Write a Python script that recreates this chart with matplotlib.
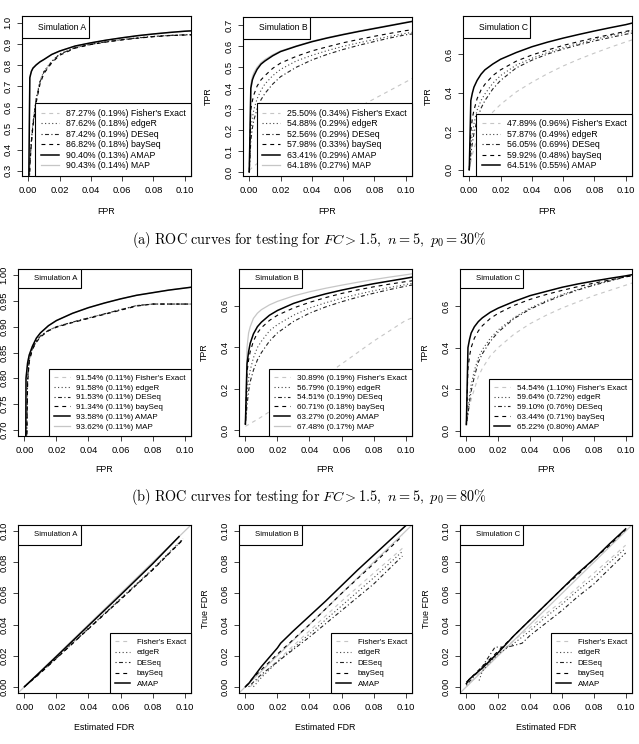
import matplotlib
matplotlib.use("Agg")
import matplotlib.pyplot as plt
from matplotlib.lines import Line2D
from matplotlib.patches import Rectangle

plt.rcParams["font.family"] = ["Liberation Sans", "DejaVu Sans"]
plt.rcParams["mathtext.fontset"] = "cm"

W, H = 639, 744

METHODS = ["Fisher's Exact", "edgeR", "DESeq", "baySeq", "AMAP", "MAP"]

# shared FPR grid for the ROC curves
FPR = [0.0, 0.001, 0.002, 0.003, 0.005, 0.0075, 0.01, 0.015, 0.02, 0.03,
       0.04, 0.05, 0.06, 0.07, 0.08, 0.09, 0.10, 0.105]

# ---- (a) p0 = 30% ----
roc_a30 = {
    "Fisher's Exact": [0, 0.33, 0.44, 0.52, 0.63, 0.72, 0.765, 0.815, 0.85, 0.882, 0.898, 0.91, 0.92, 0.928, 0.935, 0.94, 0.943, 0.944],
    "edgeR":          [0, 0.34, 0.45, 0.53, 0.64, 0.725, 0.77, 0.818, 0.852, 0.883, 0.899, 0.911, 0.921, 0.929, 0.936, 0.94, 0.943, 0.944],
    "DESeq":          [0, 0.33, 0.44, 0.52, 0.635, 0.72, 0.767, 0.816, 0.851, 0.882, 0.898, 0.91, 0.92, 0.928, 0.935, 0.94, 0.943, 0.944],
    "baySeq":         [0, 0.32, 0.43, 0.51, 0.62, 0.71, 0.76, 0.81, 0.846, 0.88, 0.897, 0.909, 0.919, 0.927, 0.934, 0.939, 0.942, 0.943],
    "AMAP":           [0, 0.74, 0.77, 0.785, 0.80, 0.815, 0.826, 0.85, 0.866, 0.89, 0.905, 0.918, 0.929, 0.939, 0.947, 0.954, 0.96, 0.962],
    "MAP":            [0, 0.745, 0.772, 0.787, 0.802, 0.816, 0.827, 0.85, 0.866, 0.89, 0.905, 0.918, 0.929, 0.939, 0.947, 0.954, 0.96, 0.962],
}
roc_b30 = {
    "Fisher's Exact": [0.008, 0.015, 0.022, 0.028, 0.04, 0.055, 0.068, 0.09, 0.11, 0.15, 0.19, 0.23, 0.27, 0.31, 0.35, 0.39, 0.43, 0.45],
    "edgeR":          [0, 0.2, 0.26, 0.30, 0.35, 0.39, 0.42, 0.46, 0.49, 0.53, 0.557, 0.58, 0.60, 0.617, 0.633, 0.648, 0.662, 0.668],
    "DESeq":          [0, 0.15, 0.21, 0.25, 0.30, 0.345, 0.375, 0.42, 0.455, 0.50, 0.535, 0.562, 0.585, 0.605, 0.623, 0.64, 0.655, 0.66],
    "baySeq":         [0, 0.30, 0.34, 0.37, 0.41, 0.44, 0.46, 0.495, 0.52, 0.552, 0.578, 0.598, 0.617, 0.633, 0.648, 0.662, 0.675, 0.68],
    "AMAP":           [0, 0.40, 0.44, 0.46, 0.49, 0.515, 0.53, 0.555, 0.575, 0.60, 0.622, 0.64, 0.656, 0.671, 0.685, 0.699, 0.713, 0.72],
    "MAP":            [0, 0.42, 0.455, 0.475, 0.50, 0.522, 0.537, 0.56, 0.578, 0.602, 0.624, 0.642, 0.658, 0.673, 0.687, 0.701, 0.715, 0.722],
}
roc_c30 = {
    "Fisher's Exact": [0, 0.04, 0.08, 0.11, 0.16, 0.21, 0.245, 0.30, 0.34, 0.405, 0.455, 0.50, 0.54, 0.575, 0.607, 0.637, 0.665, 0.678],
    "edgeR":          [0, 0.12, 0.19, 0.24, 0.31, 0.36, 0.395, 0.45, 0.49, 0.545, 0.58, 0.61, 0.635, 0.657, 0.678, 0.697, 0.715, 0.724],
    "DESeq":          [0, 0.08, 0.14, 0.19, 0.26, 0.32, 0.36, 0.42, 0.465, 0.53, 0.57, 0.602, 0.628, 0.65, 0.67, 0.688, 0.705, 0.713],
    "baySeq":         [0, 0.20, 0.27, 0.31, 0.37, 0.415, 0.445, 0.49, 0.52, 0.565, 0.597, 0.623, 0.647, 0.667, 0.686, 0.703, 0.72, 0.728],
    "AMAP":           [0, 0.36, 0.40, 0.43, 0.465, 0.497, 0.52, 0.55, 0.575, 0.61, 0.64, 0.664, 0.685, 0.704, 0.722, 0.739, 0.755, 0.765],
}
auc_a30 = {"Fisher's Exact": "87.27% (0.19%)", "edgeR": "87.62% (0.18%)", "DESeq": "87.42% (0.19%)",
           "baySeq": "86.82% (0.18%)", "AMAP": "90.40% (0.13%)", "MAP": "90.43% (0.14%)"}
auc_b30 = {"Fisher's Exact": "25.50% (0.34%)", "edgeR": "54.88% (0.29%)", "DESeq": "52.56% (0.29%)",
           "baySeq": "57.98% (0.33%)", "AMAP": "63.41% (0.29%)", "MAP": "64.18% (0.27%)"}
auc_c30 = {"Fisher's Exact": "47.89% (0.96%)", "edgeR": "57.87% (0.49%)", "DESeq": "56.05% (0.69%)",
           "baySeq": "59.92% (0.48%)", "AMAP": "64.51% (0.55%)"}

# ---- (b) p0 = 80% ----
roc_a80 = {
    "Fisher's Exact": [0, 0.60, 0.80, 0.835, 0.858, 0.872, 0.882, 0.893, 0.90, 0.909, 0.917, 0.925, 0.933, 0.941, 0.944, 0.944, 0.944, 0.944],
    "edgeR":          [0, 0.61, 0.80, 0.836, 0.858, 0.872, 0.882, 0.893, 0.90, 0.909, 0.917, 0.925, 0.933, 0.941, 0.944, 0.944, 0.944, 0.944],
    "DESeq":          [0, 0.60, 0.80, 0.835, 0.858, 0.872, 0.882, 0.893, 0.90, 0.909, 0.917, 0.925, 0.933, 0.941, 0.944, 0.944, 0.944, 0.944],
    "baySeq":         [0, 0.58, 0.79, 0.832, 0.856, 0.87, 0.88, 0.892, 0.899, 0.908, 0.916, 0.924, 0.932, 0.94, 0.944, 0.944, 0.944, 0.944],
    "AMAP":           [0, 0.80, 0.83, 0.845, 0.862, 0.878, 0.888, 0.902, 0.912, 0.926, 0.937, 0.946, 0.954, 0.961, 0.966, 0.971, 0.975, 0.977],
    "MAP":            [0, 0.80, 0.83, 0.846, 0.863, 0.878, 0.888, 0.902, 0.912, 0.926, 0.937, 0.946, 0.954, 0.961, 0.966, 0.971, 0.975, 0.977],
}
roc_b80 = {
    "Fisher's Exact": [0.02, 0.024, 0.028, 0.033, 0.042, 0.053, 0.065, 0.09, 0.115, 0.165, 0.215, 0.265, 0.32, 0.375, 0.43, 0.48, 0.53, 0.545],
    "edgeR":          [0.03, 0.18, 0.25, 0.29, 0.35, 0.40, 0.43, 0.48, 0.51, 0.555, 0.59, 0.615, 0.637, 0.656, 0.673, 0.689, 0.703, 0.71],
    "DESeq":          [0.03, 0.12, 0.19, 0.235, 0.29, 0.34, 0.375, 0.43, 0.47, 0.525, 0.565, 0.595, 0.62, 0.642, 0.661, 0.679, 0.695, 0.702],
    "baySeq":         [0.03, 0.28, 0.34, 0.38, 0.43, 0.47, 0.495, 0.53, 0.555, 0.59, 0.617, 0.64, 0.66, 0.677, 0.692, 0.705, 0.717, 0.722],
    "AMAP":           [0.03, 0.32, 0.38, 0.42, 0.465, 0.50, 0.522, 0.555, 0.578, 0.612, 0.637, 0.658, 0.676, 0.692, 0.707, 0.72, 0.733, 0.74],
    "MAP":            [0.03, 0.40, 0.47, 0.50, 0.54, 0.565, 0.582, 0.605, 0.622, 0.648, 0.668, 0.685, 0.70, 0.714, 0.727, 0.739, 0.75, 0.756],
}
roc_c80 = {
    "Fisher's Exact": [0.03, 0.08, 0.12, 0.15, 0.20, 0.26, 0.30, 0.36, 0.40, 0.465, 0.515, 0.555, 0.59, 0.62, 0.65, 0.675, 0.70, 0.713],
    "edgeR":          [0.03, 0.10, 0.17, 0.22, 0.29, 0.35, 0.39, 0.445, 0.485, 0.545, 0.59, 0.625, 0.655, 0.68, 0.703, 0.723, 0.742, 0.75],
    "DESeq":          [0.03, 0.08, 0.14, 0.19, 0.26, 0.33, 0.37, 0.43, 0.475, 0.54, 0.585, 0.62, 0.65, 0.677, 0.70, 0.72, 0.74, 0.75],
    "baySeq":         [0.03, 0.30, 0.36, 0.40, 0.445, 0.48, 0.505, 0.54, 0.565, 0.603, 0.632, 0.655, 0.675, 0.693, 0.71, 0.725, 0.74, 0.747],
    "AMAP":           [0.03, 0.40, 0.44, 0.47, 0.50, 0.525, 0.543, 0.57, 0.59, 0.622, 0.65, 0.67, 0.69, 0.706, 0.72, 0.733, 0.745, 0.752],
}
auc_a80 = {"Fisher's Exact": "91.54% (0.11%)", "edgeR": "91.58% (0.11%)", "DESeq": "91.53% (0.11%)",
           "baySeq": "91.34% (0.11%)", "AMAP": "93.58% (0.11%)", "MAP": "93.62% (0.11%)"}
auc_b80 = {"Fisher's Exact": "30.89% (0.19%)", "edgeR": "56.79% (0.19%)", "DESeq": "54.51% (0.19%)",
           "baySeq": "60.71% (0.18%)", "AMAP": "63.27% (0.20%)", "MAP": "67.48% (0.17%)"}
auc_c80 = {"Fisher's Exact": "54.54% (1.10%)", "edgeR": "59.64% (0.72%)", "DESeq": "59.10% (0.76%)",
           "baySeq": "63.44% (0.71%)", "AMAP": "65.22% (0.80%)"}

# ---- FDR calibration: (estimated FDR, true FDR) per method ----
fdr_a = {
    "Fisher's Exact": ([0.0, 0.01, 0.02, 0.04, 0.06, 0.08, 0.099], [0.0, 0.009, 0.0185, 0.0375, 0.0565, 0.0755, 0.095]),
    "edgeR":          ([0.0, 0.01, 0.02, 0.04, 0.06, 0.08, 0.099], [0.0, 0.0092, 0.0187, 0.0377, 0.0567, 0.0757, 0.0952]),
    "DESeq":          ([0.0, 0.01, 0.02, 0.04, 0.06, 0.08, 0.099], [0.0, 0.009, 0.0184, 0.0374, 0.0563, 0.0753, 0.0948]),
    "baySeq":         ([0.0, 0.01, 0.02, 0.04, 0.06, 0.08, 0.099], [0.0, 0.0088, 0.0182, 0.0372, 0.056, 0.075, 0.0945]),
    "AMAP":           ([0.0, 0.01, 0.02, 0.04, 0.06, 0.08, 0.0965], [0.0, 0.0097, 0.0195, 0.0393, 0.059, 0.079, 0.0965]),
}
fdr_b = {
    "Fisher's Exact": ([0.003, 0.01, 0.02, 0.04, 0.06, 0.08, 0.098], [0.0, 0.007, 0.017, 0.036, 0.055, 0.073, 0.089]),
    "edgeR":          ([0.005, 0.01, 0.02, 0.04, 0.06, 0.08, 0.098], [0.0, 0.006, 0.016, 0.034, 0.052, 0.07, 0.087]),
    "DESeq":          ([0.002, 0.01, 0.015, 0.02, 0.04, 0.06, 0.08, 0.098], [0.0, 0.008, 0.012, 0.016, 0.032, 0.049, 0.066, 0.084]),
    "baySeq":         ([0.0, 0.005, 0.01, 0.02, 0.04, 0.06, 0.08, 0.098], [0.0, 0.006, 0.011, 0.021, 0.040, 0.060, 0.079, 0.097]),
    "AMAP":           ([0.0, 0.002, 0.01, 0.02, 0.022, 0.03, 0.04, 0.05, 0.06, 0.07, 0.08, 0.09, 0.1],
                       [0.0, 0.002, 0.013, 0.025, 0.028, 0.036, 0.0455, 0.055, 0.065, 0.075, 0.0845, 0.094, 0.1035]),
}
fdr_c = {
    "Fisher's Exact": ([0.0, 0.01, 0.02, 0.03, 0.04, 0.05, 0.06, 0.07, 0.08, 0.09, 0.1],
                       [0.0, 0.011, 0.021, 0.03, 0.038, 0.047, 0.055, 0.064, 0.073, 0.082, 0.091]),
    "edgeR":          ([0.008, 0.01, 0.015, 0.02, 0.03, 0.04, 0.05, 0.06, 0.07, 0.08, 0.09, 0.1],
                       [0.004, 0.01, 0.016, 0.021, 0.028, 0.036, 0.045, 0.053, 0.062, 0.07, 0.08, 0.089]),
    "DESeq":          ([0.0, 0.01, 0.018, 0.026, 0.035, 0.04, 0.05, 0.06, 0.07, 0.08, 0.09, 0.1],
                       [0.001, 0.013, 0.0255, 0.0255, 0.028, 0.033, 0.041, 0.049, 0.058, 0.066, 0.076, 0.086]),
    "baySeq":         ([0.0, 0.002, 0.01, 0.02, 0.03, 0.04, 0.05, 0.06, 0.07, 0.08, 0.09, 0.1],
                       [0.003, 0.005, 0.013, 0.023, 0.033, 0.043, 0.053, 0.063, 0.072, 0.082, 0.091, 0.101]),
    "AMAP":           ([0.0, 0.002, 0.01, 0.02, 0.03, 0.04, 0.05, 0.06, 0.07, 0.08, 0.09, 0.1],
                       [0.002, 0.005, 0.012, 0.022, 0.033, 0.043, 0.053, 0.063, 0.073, 0.082, 0.092, 0.1015]),
}

X_TICKS = [0.00, 0.02, 0.04, 0.06, 0.08, 0.10]
CAPTIONS = [r"$\mathrm{(a)\ ROC\ curves\ for\ testing\ for\ }FC > 1.5,\ n = 5,\ p_0 = 30\%$",
            r"$\mathrm{(b)\ ROC\ curves\ for\ testing\ for\ }FC > 1.5,\ n = 5,\ p_0 = 80\%$"]

LGRAY = "#c6c6c6"
STYLE = {
    "Fisher's Exact": dict(color=LGRAY, ls=(0, (3.5, 3.5)), lw=0.8),
    "edgeR":          dict(color="#444444", ls=(0, (1, 2.2)), lw=0.8),
    "DESeq":          dict(color="#222222", ls=(0, (1, 2.2, 3.5, 2.2)), lw=0.8),
    "baySeq":         dict(color="black", ls=(0, (3.5, 3.5)), lw=0.8),
    "AMAP":           dict(color="black", ls="-", lw=1.1),
    "MAP":            dict(color=LGRAY, ls="-", lw=0.9),
}
DRAW_ORDER = ["Fisher's Exact", "MAP", "edgeR", "DESeq", "baySeq", "AMAP"]

fig = plt.figure(figsize=(W / 100, H / 100), dpi=100)


def add_axes(l, t, r, b):
    return fig.add_axes([l / W, 1 - b / H, (r - l) / W, (b - t) / H])


def style_axes(ax, ylim, yticks, yfmt, xlabel, ylabel, sim, lab_dy, lab_dx, simw, simh, simfs):
    ax.set_xlim(-0.004, 0.104)
    ax.set_ylim(*ylim)
    ax.set_xticks(X_TICKS)
    ax.set_xticklabels([f"{v:.2f}" for v in X_TICKS], fontsize=6.8)
    ax.set_yticks(yticks)
    ax.set_yticklabels([yfmt.format(v) for v in yticks], fontsize=6.8, rotation=90, va="center")
    ax.tick_params(direction="out", length=3.6, width=0.6, pad=3.5, color="#222222")
    for s in ax.spines.values():
        s.set_linewidth(0.8)
    ax.text(0.5, lab_dy, xlabel, transform=ax.transAxes, ha="center", va="center", fontsize=6.4)
    if ylabel:
        ax.text(lab_dx, 0.5, ylabel, transform=ax.transAxes, ha="center", va="center",
                rotation=90, fontsize=6.4)
    ax.add_patch(Rectangle((0, 1 - simh), simw, simh, transform=ax.transAxes, fill=True,
                           facecolor="white", edgecolor="black", lw=0.8, zorder=5))
    ax.text(simw * 0.6, 1 - simh / 2, f"Simulation {sim}", transform=ax.transAxes,
            ha="center", va="center", fontsize=simfs, zorder=6)


def draw_legend(ax, names, labels, fs, spacing):
    handles = [Line2D([], [], **STYLE[m]) for m in names]
    leg = ax.legend(handles, labels, loc="lower right", borderaxespad=0, fontsize=fs,
                    fancybox=False, framealpha=1, edgecolor="black", handlelength=2.0,
                    handletextpad=0.8, labelspacing=spacing, borderpad=0.65)
    leg.get_frame().set_linewidth(0.8)
    leg.set_zorder(7)


# ---- ROC rows ----
roc_rows = [
    (0, [roc_a30, roc_b30, roc_c30], [auc_a30, auc_b30, auc_c30],
     [(22, 16, 191, 176), (243, 17, 412, 176), (463, 16, 632, 176)],
     [((0.275, 1.032), [0.3, 0.4, 0.5, 0.6, 0.7, 0.8, 0.9, 1.0], "{:.1f}"),
      ((-0.019, 0.74), [0.0, 0.1, 0.2, 0.3, 0.4, 0.5, 0.6, 0.7], "{:.1f}"),
      ((-0.032, 0.80), [0.0, 0.2, 0.4, 0.6], "{:.1f}")], 6.3, 6.2, 0.17),
    (1, [roc_a80, roc_b80, roc_c80], [auc_a80, auc_b80, auc_c80],
     [(18, 269, 191, 436), (239, 269, 412, 436), (460, 269, 632, 436)],
     [((0.688, 1.012), [0.70, 0.75, 0.80, 0.85, 0.90, 0.95, 1.00], "{:.2f}"),
      ((-0.027, 0.778), [0.0, 0.2, 0.4, 0.6], "{:.1f}"),
      ((-0.025, 0.778), [0.0, 0.2, 0.4, 0.6], "{:.1f}")], 5.75, 5.6, 0.28),
]

for row, curves, aucs, boxes, yspecs, legfs, simfs, lsp in roc_rows:
    for j, (data, auc, box, (ylim, yt, yf)) in enumerate(zip(curves, aucs, boxes, yspecs)):
        ax = add_axes(*box)
        h = box[3] - box[1]
        w = box[2] - box[0]
        for m in DRAW_ORDER:
            if m in data:
                ax.plot(FPR, data[m], **STYLE[m])
        style_axes(ax, ylim, yt, yf, "FPR", "TPR" if j > 0 else None, "ABC"[j],
                   -36 / h if row == 0 else -34 / h, -35 / w,
                   67 / w if row == 0 else 63 / w, 22 / h if row == 0 else 19 / h, simfs)
        names = [m for m in METHODS if m in data]
        draw_legend(ax, names, [f"{auc[m]} {m}" for m in names], legfs, lsp)

# ---- FDR row ----
for j, (data, box) in enumerate(zip([fdr_a, fdr_b, fdr_c],
                                    [(18, 525, 191, 693), (239, 525, 412, 693), (460, 525, 632, 693)])):
    ax = add_axes(*box)
    h = box[3] - box[1]
    w = box[2] - box[0]
    ax.axline((0, 0), slope=1, color=LGRAY, lw=0.9)
    for m in DRAW_ORDER:
        if m in data:
            ax.plot(data[m][0], data[m][1], **STYLE[m])
    style_axes(ax, (-0.004, 0.104), X_TICKS, "{:.2f}", "Estimated FDR",
               "True FDR" if j > 0 else None, "ABC"[j], -34 / h, -33 / w, 63 / w, 20 / h, 5.6)
    names = [m for m in METHODS if m in data]
    draw_legend(ax, names, names, 5.65, 0.38)

fig.text(309 / W, 1 - 240 / H, CAPTIONS[0], ha="center", va="center", fontsize=10.3)
fig.text(309 / W, 1 - 497 / H, CAPTIONS[1], ha="center", va="center", fontsize=10.3)

fig.savefig("out.png", dpi=100, facecolor="white")
